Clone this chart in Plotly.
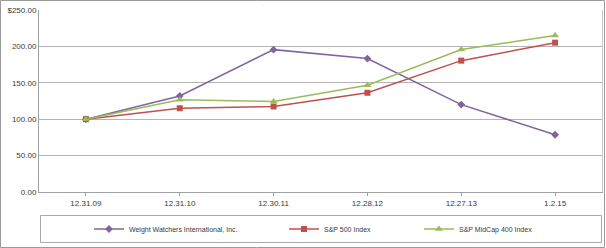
import plotly.graph_objects as go

dates = ["12.31.09", "12.31.10", "12.30.11", "12.28.12", "12.27.13", "1.2.15"]
ww = [100.00, 131.91, 195.57, 183.34, 120.03, 78.67]
sp500 = [100.00, 115.06, 117.49, 136.30, 180.44, 205.14]
mid400 = [100.00, 126.64, 124.45, 146.69, 195.84, 214.97]
ytick_vals = [0, 50, 100, 150, 200, 250]
ytick_text = ["0.00", "50.00", "100.00", "150.00", "200.00", "$250.00"]

W, H = 606, 248
ML, MR, MT, MB = 39, 4, 10, 56
pw = W - ML - MR
ph = H - MT - MB

def px_x(p):
    return (p - ML) / pw

def px_y(p):
    return (H - MB - p) / ph

FONT = "Liberation Sans, Arial, Helvetica, sans-serif"
TXT = "#3a3a3a"

fig = go.Figure()
series = [
    ("Weight Watchers International, Inc.", ww, "#8064A2", "diamond", 6, "legend"),
    ("S&P 500 Index", sp500, "#C0504D", "square", 6, "legend2"),
    ("S&P MidCap 400 Index", mid400, "#9BBB59", "triangle-up", 7, "legend3"),
]
for name, vals, col, sym, ms, lg in series:
    fig.add_trace(go.Scatter(
        x=dates, y=vals, name=name, mode="lines+markers",
        line=dict(color=col, width=1.5),
        marker=dict(symbol=sym, size=ms, color=col),
        legend=lg,
    ))

leg_common = dict(
    orientation="h", yanchor="middle", xanchor="left",
    font=dict(family=FONT, size=7, color=TXT),
    bgcolor="rgba(0,0,0,0)", borderwidth=0, itemwidth=30,
)
legx = [89, 284, 419]
ly = px_y(229)
fig.update_layout(
    legend=dict(x=px_x(legx[0]), y=ly, **leg_common),
    legend2=dict(x=px_x(legx[1]), y=ly, **leg_common),
    legend3=dict(x=px_x(legx[2]), y=ly, **leg_common),
)

# outer border and legend box
fig.add_shape(type="rect", xref="paper", yref="paper",
              x0=px_x(0.5), x1=px_x(W - 1.5), y0=px_y(H - 0.5), y1=px_y(0.5),
              line=dict(color="#9a9a9a", width=1), layer="below")
fig.add_shape(type="rect", xref="paper", yref="paper",
              x0=px_x(40.5), x1=px_x(601.5), y0=px_y(242.5), y1=px_y(215.5),
              line=dict(color="#a8a8a8", width=1), layer="below")

fig.update_layout(
    width=W, height=H,
    margin=dict(l=ML, r=MR, t=MT, b=MB),
    paper_bgcolor="white", plot_bgcolor="white",
    font=dict(family=FONT, size=8, color=TXT),
    showlegend=True,
    xaxis=dict(
        type="category", showgrid=False, showline=True, linecolor="#a0a0a0",
        linewidth=1, mirror=False, ticks="outside", ticklen=3, tickcolor="#a0a0a0",
        tickfont=dict(family=FONT, size=8, color=TXT), range=[-0.5, 5.5],
    ),
    yaxis=dict(
        range=[0, 250], tickvals=ytick_vals, ticktext=ytick_text,
        showgrid=True, gridcolor="#b4b4b4", gridwidth=1,
        showline=True, linecolor="#a0a0a0", linewidth=1, zeroline=False,
        ticks="", tickfont=dict(family=FONT, size=8, color=TXT),
    ),
    yaxis2=dict(overlaying="y", side="right", range=[0, 250], showgrid=False,
                showticklabels=False, showline=True, linecolor="#c8c8c8"),
)
# add right border of plot area using the overlay y axis
fig.add_trace(go.Scatter(x=[dates[0]], y=[None], yaxis="y2", showlegend=False, hoverinfo="skip"))

fig.write_html("out.html")
